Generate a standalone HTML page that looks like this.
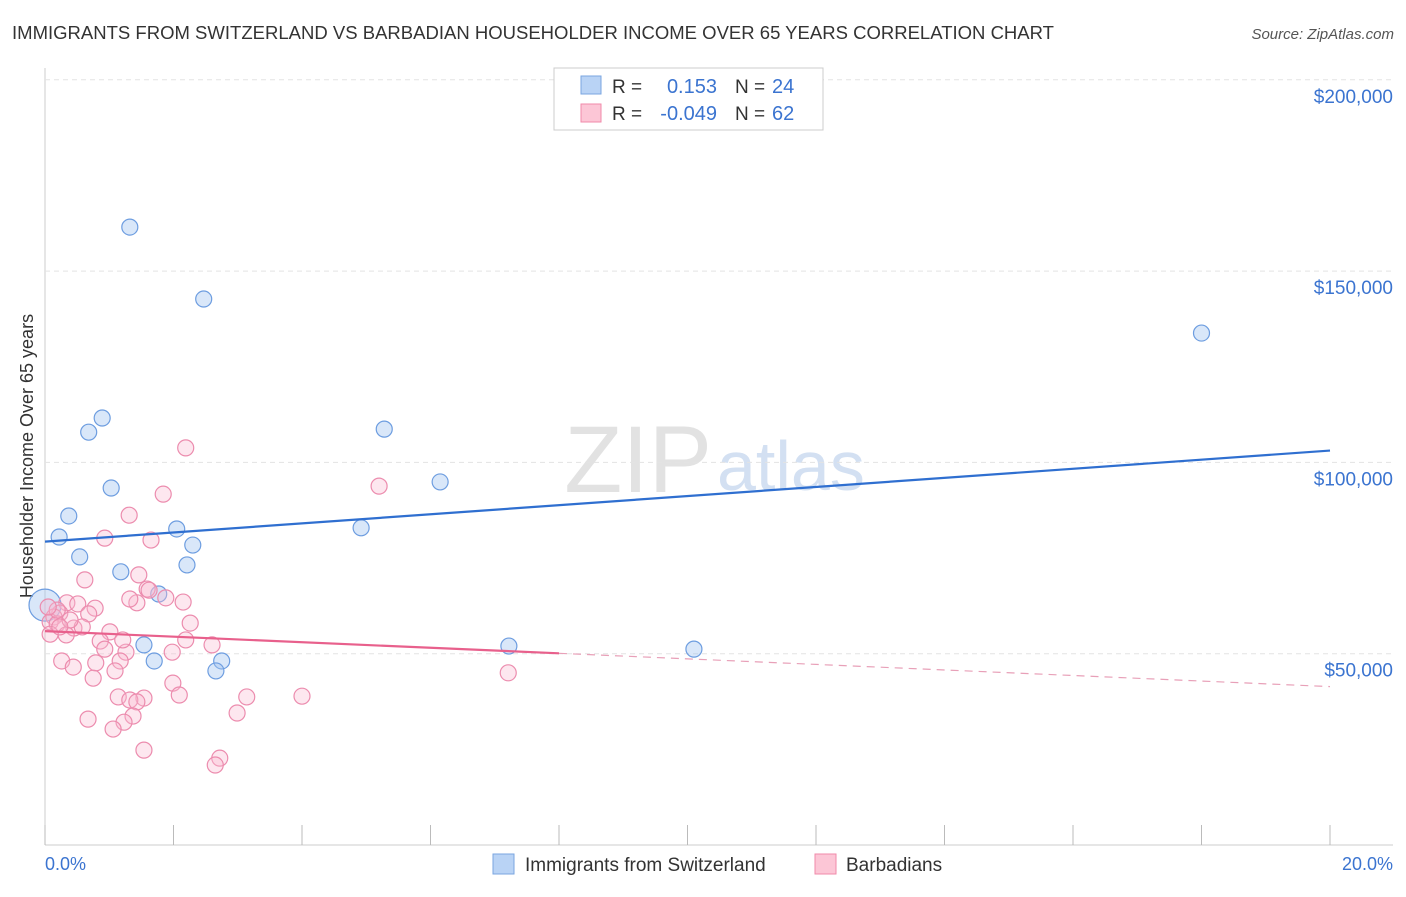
<!DOCTYPE html>
<html><head><meta charset="utf-8"><style>
body{margin:0;background:#fff;font-family:"Liberation Sans",sans-serif}
svg text{font-family:"Liberation Sans",sans-serif}
</style></head><body>
<svg id="c" width="1406" height="892" xmlns="http://www.w3.org/2000/svg">
<text x="12" y="39" font-size="18" fill="#333" textLength="1042" lengthAdjust="spacingAndGlyphs">IMMIGRANTS FROM SWITZERLAND VS BARBADIAN HOUSEHOLDER INCOME OVER 65 YEARS CORRELATION CHART</text>
<text x="1394" y="39" font-size="15" fill="#555" font-style="italic" text-anchor="end">Source: ZipAtlas.com</text>
<text x="33" y="456" font-size="18" fill="#333" text-anchor="middle" transform="rotate(-90 33 456)">Householder Income Over 65 years</text>
<text x="712" y="492" font-size="95" fill="#e2e2e2" font-family="Liberation Serif" text-anchor="end">ZIP</text>
<text x="717" y="490" font-size="70" fill="#d3e0f2">atlas</text>
<g id="grid"></g><g id="pts"></g><g id="lines"></g>
<g>
<rect x="554" y="68" width="269" height="62" fill="#fff" stroke="#ccc"/>
<rect x="581" y="76" width="20" height="18" fill="#b9d3f5" stroke="#7aa6e0"/>
<rect x="581" y="104" width="20" height="18" fill="#fcc6d6" stroke="#f08aaa"/>
<text x="612" y="93" font-size="19" fill="#333">R =</text><text x="717" y="93" font-size="20" fill="#3b74d0" text-anchor="end">0.153</text>
<text x="735" y="93" font-size="19" fill="#333">N =</text><text x="772" y="93" font-size="20" fill="#3b74d0">24</text>
<text x="612" y="120" font-size="19" fill="#333">R =</text><text x="717" y="120" font-size="20" fill="#3b74d0" text-anchor="end">-0.049</text>
<text x="735" y="120" font-size="19" fill="#333">N =</text><text x="772" y="120" font-size="20" fill="#3b74d0">62</text>
</g>
<g>
<rect x="493" y="854" width="21" height="20" fill="#b9d3f5" stroke="#7aa6e0"/>
<text x="525" y="871" font-size="19" fill="#333">Immigrants from Switzerland</text>
<rect x="815" y="854" width="21" height="20" fill="#fcc6d6" stroke="#f08aaa"/>
<text x="846" y="871" font-size="19" fill="#333">Barbadians</text>
</g>
<text x="45" y="870" font-size="18" fill="#3b74d0">0.0%</text>
<text x="1393" y="870" font-size="18" fill="#3b74d0" text-anchor="end">20.0%</text>
</svg>
<script>
const yTicks=[50000,100000,150000,200000];
const yTickLabels=["$50,000","$100,000","$150,000","$200,000"];
const blueX=[1.32,2.47,18.0,0.89,0.68,5.28,6.15,1.03,0.37,0.22,2.05,4.92,2.30,0.54,2.21,1.18,1.77,0,1.54,7.22,10.1,1.70,2.75,2.66];
const blueY=[161.5,142.7,133.8,111.6,107.9,108.7,94.9,93.3,86.0,80.5,82.6,82.9,78.4,75.3,73.2,71.4,65.6,62.7,52.3,52.0,51.2,48.1,48.1,45.5];
const pinkX=[2.19,5.2,1.84,1.31,0.93,1.65,0.62,1.46,1.59,1.62,1.88,1.43,2.15,0.34,0.51,0.78,0.68,0.23,0.14,0.08,0.19,0.45,0.58,2.26,1.01,0.33,0.08,0.86,2.19,2.6,0.93,1.26,1.98,0.26,0.79,1.17,0.44,1.09,7.21,0.75,1.99,2.09,1.14,3.14,4.0,1.54,1.32,1.43,2.99,1.37,0.67,1.23,1.06,1.54,2.72,2.65,0.19,0.39,0.23,1.21,1.32,0.05];
const pinkY=[103.8,93.8,91.7,86.2,80.2,79.7,69.3,70.6,66.9,66.6,64.6,63.3,63.5,63.3,63.0,61.9,60.4,60.6,59.6,58.3,57.8,56.7,57.0,58.0,55.7,54.9,55.1,53.3,53.6,52.3,51.2,50.4,50.4,48.1,47.6,48.1,46.5,45.5,45.0,43.6,42.3,39.2,38.7,38.7,38.9,38.4,37.9,37.4,34.5,33.7,32.9,32.1,30.3,24.8,22.7,20.9,61.4,58.8,57.0,53.6,64.3,62.2];
const blueTrend=[79.3,103.1];
const pinkTrend=[55.9,41.4];
const pinkSolidEnd=8;
const X=v=>45+v*64.25, Y=v=>845-v*1000/50000*191.3;
const NS="http://www.w3.org/2000/svg";
function mk(t,a,p){const e=document.createElementNS(NS,t);for(const k in a)e.setAttribute(k,a[k]);p.appendChild(e);return e;}
const g=document.getElementById('grid');
mk('line',{x1:45,y1:68,x2:45,y2:845,stroke:'#ccc'},g);
mk('line',{x1:45,y1:845,x2:1393,y2:845,stroke:'#ccc'},g);
for(let i=0;i<=10;i++){const l=mk('line',{x1:X(i*2),y1:845,x2:X(i*2),y2:825,stroke:'#bbb'},g);}
yTicks.forEach((v,i)=>{const yy=845-v/50000*191.3;
const l=mk('line',{x1:45,y1:yy,x2:1393,y2:yy,stroke:'#e3e3e3','stroke-dasharray':'5,4'},g);

const t=mk('text',{x:1393,y:yy+23,'font-size':19,fill:'#3b74d0','text-anchor':'end'},g);t.textContent=yTickLabels[i];
});
const p=document.getElementById('pts');
blueX.forEach((x,i)=>{const c=mk('circle',{cx:X(x),cy:Y(blueY[i]),r:x===0?16:8,fill:'rgba(160,196,240,0.4)',stroke:'#6d9de0','stroke-width':1.2},p);
});
pinkX.forEach((x,i)=>{const c=mk('circle',{cx:X(x),cy:Y(pinkY[i]),r:8,fill:'rgba(250,185,208,0.35)',stroke:'#ec8cae','stroke-width':1.2},p);
});
const L=document.getElementById('lines');
const bl=mk('line',{x1:X(0),y1:Y(blueTrend[0]),x2:X(20),y2:Y(blueTrend[1]),stroke:'#2f6fd0','stroke-width':2.2},L);

const pm=pinkTrend[0]+(pinkTrend[1]-pinkTrend[0])*pinkSolidEnd/20;
const pl=mk('line',{x1:X(0),y1:Y(pinkTrend[0]),x2:X(pinkSolidEnd),y2:Y(pm),stroke:'#e8608c','stroke-width':2.2},L);

const pd=mk('line',{x1:X(pinkSolidEnd),y1:Y(pm),x2:X(20),y2:Y(pinkTrend[1]),stroke:'#e8a0b8','stroke-width':1.2,'stroke-dasharray':'8,6'},L);

</script>
</body></html>
